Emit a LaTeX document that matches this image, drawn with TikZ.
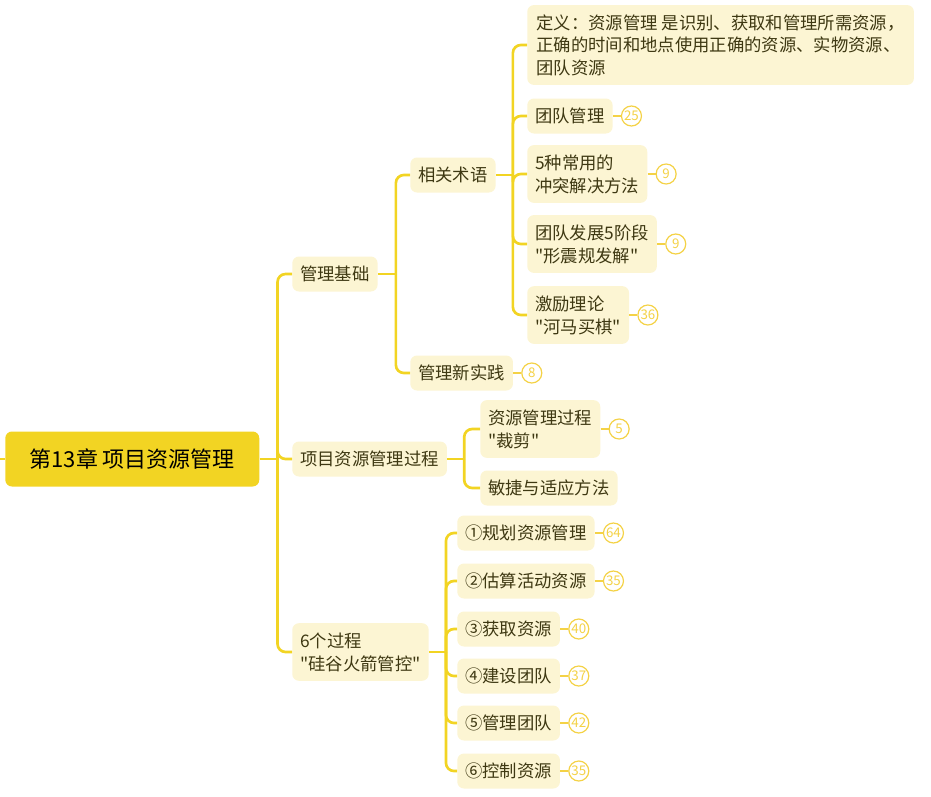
\documentclass[tikz,border=0pt]{standalone}
\usepackage{fontspec}
\setmainfont{Noto Sans CJK SC}[Ligatures=TeXOff]
\usepackage{xcolor}
\usepackage{tikz}
\usetikzlibrary{positioning}
\definecolor{mmyellow}{HTML}{F2D423}
\definecolor{mmpale}{HTML}{FCF5D3}
\definecolor{mmink}{HTML}{3E3812}
\definecolor{mmbadge}{HTML}{F4D246}
\tikzset{
  mmroot/.style={fill=mmyellow, rounded corners=5pt, anchor=west, minimum width=190.5pt, minimum height=41.25pt, inner sep=0pt, text=black, font=\fontsize{16.5}{20}\selectfont},
  mmtopic/.style={fill=mmpale, rounded corners=5pt, anchor=west, inner xsep=6pt, inner ysep=7pt, minimum height=26.25pt, align=left, text=mmink, font=\fontsize{13}{17.25}\selectfont},
  mmbranch/.style={draw=mmyellow, line width=2pt, rounded corners=6pt},
  mmstalk/.style={draw=mmbadge, line width=1.6pt},
  mmbadge/.style={circle, draw=mmbadge, fill=white, line width=0.9pt, minimum size=15pt, inner sep=0pt, text=mmbadge, font=\fontsize{10}{10}\selectfont},
}
\begin{document}
\begin{tikzpicture}[x=0.75pt, y=-0.75pt]
\useasboundingbox (0,0) rectangle (931,796);
\node[mmroot] (root) at (5,459) {第13章 项目资源管理};
\node[mmtopic] (jc) at (292,274) {管理基础};
\node[mmtopic] (gc) at (292,459) {项目资源管理过程};
\node[mmtopic] (lgc) at (292,652) {6个过程\\"硅谷火箭管控"};
\node[mmtopic] (sy) at (410,175) {相关术语};
\node[mmtopic] (xsj) at (410,373) {管理新实践};
\node[mmtopic, minimum width=290pt, font=\fontsize{13}{16.9}\selectfont] (dy) at (527,45) {定义：资源管理 是识别、获取和管理所需资源，\\正确的时间和地点使用正确的资源、实物资源、\\团队资源};
\node[mmtopic] (tdgl) at (527,116) {团队管理};
\node[mmtopic] (ct) at (527,174) {5种常用的\\冲突解决方法};
\node[mmtopic] (fz) at (527,244) {团队发展5阶段\\"形震规发解"};
\node[mmtopic] (jl) at (527,315) {激励理论\\"河马买棋"};
\node[mmtopic] (cj) at (480,429) {资源管理过程\\"裁剪"};
\node[mmtopic] (mj) at (480,488) {敏捷与适应方法};
\node[mmtopic] (p1) at (457,533) {①规划资源管理};
\node[mmtopic] (p2) at (457,581) {②估算活动资源};
\node[mmtopic] (p3) at (457,629) {③获取资源};
\node[mmtopic] (p4) at (457,676) {④建设团队};
\node[mmtopic] (p5) at (457,723) {⑤管理团队};
\node[mmtopic] (p6) at (457,771) {⑥控制资源};

\node[mmbadge, right=6pt of xsj] (xsjN) {8};
\node[mmbadge, right=6pt of tdgl] (tdglN) {25};
\node[mmbadge, right=6pt of ct] (ctN) {9};
\node[mmbadge, right=6pt of fz] (fzN) {9};
\node[mmbadge, right=6pt of jl] (jlN) {36};
\node[mmbadge, right=6pt of cj] (cjN) {5};
\node[mmbadge, right=6pt of p1] (p1N) {64};
\node[mmbadge, right=6pt of p2] (p2N) {35};
\node[mmbadge, right=6pt of p3] (p3N) {40};
\node[mmbadge, right=6pt of p4] (p4N) {37};
\node[mmbadge, right=6pt of p5] (p5N) {42};
\node[mmbadge, right=6pt of p6] (p6N) {35};

\draw[mmbranch] (root.west) -- ++(-6,0);
\draw[mmbranch] (root.east) -- ++(18,0) coordinate (rootJ);
\draw[mmbranch] (jc.east) -- ++(18,0) coordinate (jcJ);
\draw[mmbranch] (sy.east) -- ++(17,0) coordinate (syJ);
\draw[mmbranch] (gc.east) -- ++(17,0) coordinate (gcJ);
\draw[mmbranch] (lgc.east) -- ++(17,0) coordinate (lgcJ);
\foreach \c in {jc,gc,lgc} \draw[mmbranch] (rootJ) |- (\c.west);
\foreach \c in {sy,xsj} \draw[mmbranch] (jcJ) |- (\c.west);
\foreach \c in {dy,tdgl,ct,fz,jl} \draw[mmbranch] (syJ) |- (\c.west);
\foreach \c in {cj,mj} \draw[mmbranch] (gcJ) |- (\c.west);
\foreach \c in {p1,p2,p3,p4,p5,p6} \draw[mmbranch] (lgcJ) |- (\c.west);
\foreach \c in {xsj,tdgl,ct,fz,jl,cj,p1,p2,p3,p4,p5,p6} \draw[mmstalk] (\c.east) -- (\c N.west);
\end{tikzpicture}
\end{document}
